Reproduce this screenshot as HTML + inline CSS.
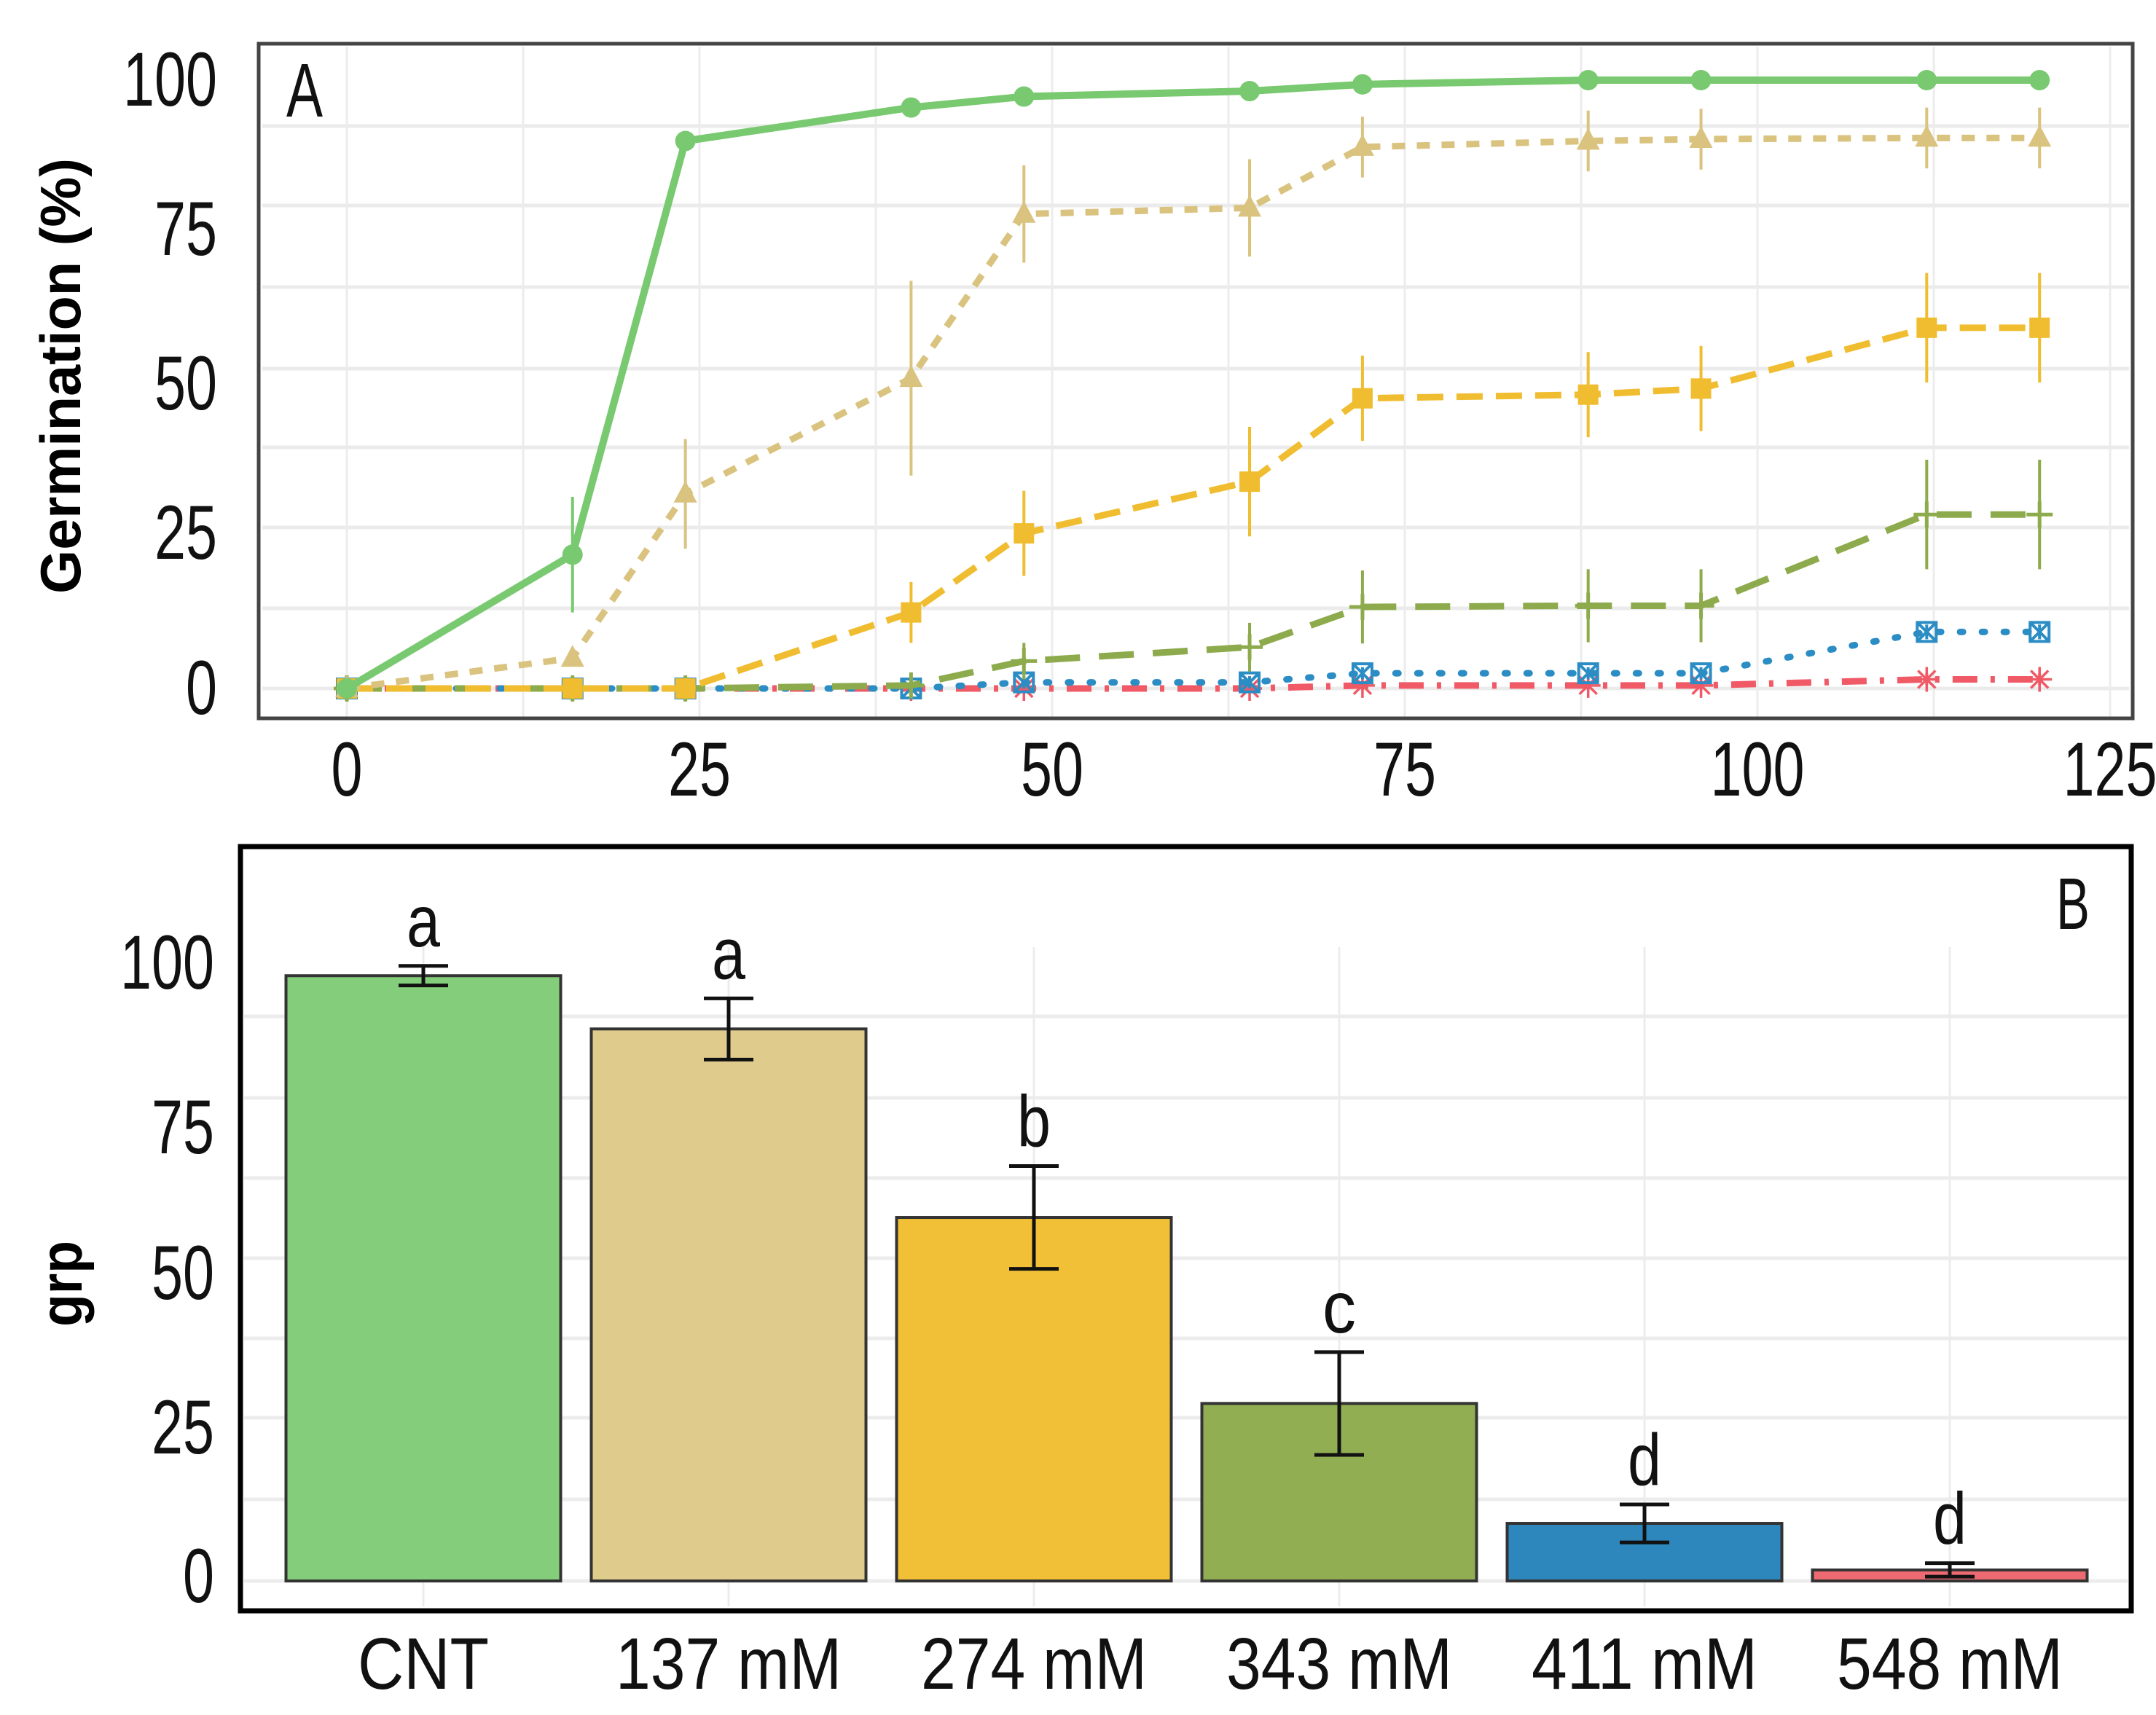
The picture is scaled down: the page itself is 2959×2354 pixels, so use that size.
<!DOCTYPE html>
<html><head><meta charset="utf-8"><style>
html,body{margin:0;padding:0;background:#fff;}
svg{display:block;}
</style></head><body>
<svg id="chart" width="2959" height="2354" viewBox="0 0 2959 2354" xmlns="http://www.w3.org/2000/svg" font-family="'Liberation Sans', sans-serif">
<g id="panelA"></g>
<g id="panelB"></g>
</svg>
<script>
// ---------- Panel A data ----------
const timePoints = [0, 16, 24, 40, 48, 64, 72, 88, 96, 112, 120];
const cntValues  = [0, 22, 90, 95.5, 97.3, 98.2, 99.3, 100, 100, 100, 100];
const cntErr     = [0, 9.5, 1, 1, 1, 1, 1, 1, 1, 1, 1];
const t137Values = [0, 5, 32, 51, 78, 79, 89, 90, 90.3, 90.5, 90.5];
const t137Err    = [0, 1, 9, 16, 8, 8, 5, 5, 5, 5, 5];
const t274Values = [0, 0, 0, 12.5, 25.5, 34, 47.7, 48.3, 49.3, 59.3, 59.3];
const t274Err    = [0, 0, 0, 5, 7, 9, 7, 7, 7, 9, 9];
const t343Values = [0, 0, 0, 0.5, 4.5, 6.8, 13.4, 13.6, 13.6, 28.6, 28.6];
const t343Err    = [0, 0, 0, 1, 3, 4, 6, 6, 6, 9, 9];
const t411Values = [0, 0, 0, 0, 1, 1, 2.5, 2.5, 2.5, 9.3, 9.3];
const t411Err    = [0, 0, 0, 0, 1, 1, 1, 1, 1, 1.2, 1.2];
const t548Values = [0, 0, 0, 0, 0, 0, 0.5, 0.5, 0.5, 1.5, 1.5];
const t548Err    = [0, 0, 0, 0, 0.5, 0.5, 0.7, 0.7, 0.7, 1, 1];
const xTickValues = [0, 25, 50, 75, 100, 125];
const yTickLabelsA = ["0", "25", "50", "75", "100"];

// ---------- Panel B data ----------
const categories = ["CNT", "137 mM", "274 mM", "343 mM", "411 mM", "548 mM"];
const grpValues  = [98.9, 90.2, 59.4, 29.0, 9.4, 1.8];
const grpErr     = [1.6, 5, 8.4, 8.4, 3.1, 1.1];
const sigLetters = ["a", "a", "b", "c", "d", "d"];
const yTickLabelsB = ["0", "25", "50", "75", "100"];

const NS = "http://www.w3.org/2000/svg";
function mk(parent, tag, attrs, text) {
  const e = document.createElementNS(NS, tag);
  for (const k in attrs) e.setAttribute(k, attrs[k]);
  if (text !== undefined) e.textContent = text;
  parent.appendChild(e);
  return e;
}

// ================= PANEL A =================
const A = document.getElementById('panelA');
const ax = v => 476 + v * (2896 - 476) / 125;
const ay = v => 945 - v * (945 - 110) / 100;

const gridA = mk(A, 'g', {});


[173, 282, 394, 506, 614, 724, 835, 945].forEach(y => {
  mk(gridA, 'line', {x1: 360, x2: 2922, y1: y, y2: y, stroke: '#ebebeb', 'stroke-width': 5});
});
for (let v = 0; v <= 125; v += 12.5) {
  mk(gridA, 'line', {x1: ax(v), x2: ax(v), y1: 64, y2: 984, stroke: '#ececec', 'stroke-width': 3});
}
const frameA = mk(A, 'rect', {x: 355, y: 60, width: 2572, height: 926, fill: 'none', stroke: '#444', 'stroke-width': 5});



const seriesA = [
  {name: 'cnt', vals: cntValues, err: cntErr, color: '#78c96f', dash: '', w: 10, marker: 'circle'},
  {name: '137mm', vals: t137Values, err: t137Err, color: '#d9c37f', dash: '18 16', w: 9, marker: 'triangle'},
  {name: '274mm', vals: t274Values, err: t274Err, color: '#f0bd30', dash: '36 18', w: 9, marker: 'square'},
  {name: '343mm', vals: t343Values, err: t343Err, color: '#8dab4c', dash: '48 26', w: 9, marker: 'plus'},
  {name: '411mm', vals: t411Values, err: t411Err, color: '#2b8dc4', dash: '4 26', w: 9, marker: 'boxcross'},
  {name: '548mm', vals: t548Values, err: t548Err, color: '#f05a67', dash: '34 18 6 18', w: 9, marker: 'star'}
];
seriesA.slice().reverse().forEach(s => {
  const g = mk(A, 'g', {});
  
  
  s.err.forEach((e, i) => {
    if (e <= 0) return;
    const eb = mk(g, 'line', {x1: ax(timePoints[i]), x2: ax(timePoints[i]), y1: ay(s.vals[i] - e), y2: ay(s.vals[i] + e), stroke: s.color, 'stroke-width': 4});
    
    
  });
  const pts = s.vals.map((v, i) => ax(timePoints[i]) + ',' + ay(v)).join(' ');
  const ln = mk(g, 'polyline', {points: pts, fill: 'none', stroke: s.color, 'stroke-width': s.w, 'stroke-dasharray': s.dash, 'stroke-linecap': s.marker === 'boxcross' ? 'round' : 'butt', 'stroke-linejoin': 'round'});
  
  
  s.vals.forEach((v, i) => {
    const x = ax(timePoints[i]), y = ay(v);
    let m;
    if (s.marker === 'circle') m = mk(g, 'circle', {cx: x, cy: y, r: 14, fill: s.color});
    else if (s.marker === 'triangle') m = mk(g, 'polygon', {points: `${x},${y-18} ${x-16},${y+12} ${x+16},${y+12}`, fill: s.color});
    else if (s.marker === 'square') m = mk(g, 'rect', {x: x-14, y: y-14, width: 28, height: 28, fill: s.color});
    else if (s.marker === 'plus') m = mk(g, 'path', {d: `M${x-18},${y}H${x+18}M${x},${y-18}V${y+18}`, stroke: s.color, 'stroke-width': 5});
    else if (s.marker === 'boxcross') m = mk(g, 'path', {d: `M${x-13},${y-13}h26v26h-26zM${x-13},${y-13}L${x+13},${y+13}M${x+13},${y-13}L${x-13},${y+13}`, stroke: s.color, 'stroke-width': 4, fill: 'none'});
    else m = mk(g, 'path', {d: `M${x-17},${y}H${x+17}M${x},${y-17}V${y+17}M${x-12},${y-12}L${x+12},${y+12}M${x+12},${y-12}L${x-12},${y+12}`, stroke: s.color, 'stroke-width': 3.5});
    
    
  });
});

const yLabPosA = [943, 730, 525, 313, 108];
yTickLabelsA.forEach((t, i) => {
  const tx = mk(A, 'text', {x: 298, y: yLabPosA[i] + 37, 'text-anchor': 'end', 'font-size': 105, fill: '#111', textLength: t.length * 43, lengthAdjust: 'spacingAndGlyphs'}, t);
  
  
});
xTickValues.forEach(v => {
  const t = String(v);
  const tx = mk(A, 'text', {x: ax(v), y: 1092, 'text-anchor': 'middle', 'font-size': 105, fill: '#111', textLength: t.length * 43, lengthAdjust: 'spacingAndGlyphs'}, t);
  
  
});
const ytA = mk(A, 'text', {transform: 'translate(110,516) rotate(-90)', 'text-anchor': 'middle', 'font-size': 78, 'font-weight': 'bold', fill: '#000', textLength: 598, lengthAdjust: 'spacingAndGlyphs'}, 'Germination (%)');


const lA = mk(A, 'text', {x: 393, y: 160, 'font-size': 105, fill: '#111', textLength: 50, lengthAdjust: 'spacingAndGlyphs'}, 'A');



// ================= PANEL B =================
const B = document.getElementById('panelB');
const bx0 = 581, bStep = 419, bW = 377;
const bx = i => bx0 + i * bStep;
const by = v => 2170 - v * 8.4;

const gridB = mk(B, 'g', {});


[1395, 1507, 1617, 1727, 1837, 1946, 2058, 2170].forEach(y => {
  mk(gridB, 'line', {x1: 335, x2: 2920, y1: y, y2: y, stroke: '#ececec', 'stroke-width': 5});
});
categories.forEach((c, i) => {
  mk(gridB, 'line', {x1: bx(i), x2: bx(i), y1: 1300, y2: 2205, stroke: '#ececec', 'stroke-width': 3});
});
const barColors = ['#84cd7a', '#dfcb8b', '#f1c036', '#91ae53', '#2d87bd', '#ee6a72'];
categories.forEach((c, i) => {
  const r = mk(B, 'rect', {x: bx(i) - bW / 2, y: by(grpValues[i]), width: bW, height: by(0) - by(grpValues[i]), fill: barColors[i], stroke: '#333', 'stroke-width': 4});
  
  
  const top = by(grpValues[i] + grpErr[i]), bot = by(grpValues[i] - grpErr[i]);
  const eb = mk(B, 'path', {d: `M${bx(i)-34},${top}H${bx(i)+34}M${bx(i)},${top}V${bot}M${bx(i)-34},${bot}H${bx(i)+34}`, stroke: '#111', 'stroke-width': 5, fill: 'none'});
  
  
  const lt = mk(B, 'text', {x: bx(i), y: top - 27, 'text-anchor': 'middle', 'font-size': 100, fill: '#111', textLength: 46, lengthAdjust: 'spacingAndGlyphs'}, sigLetters[i]);
  
  
  const xl = mk(B, 'text', {x: bx(i), y: 2318, 'text-anchor': 'middle', 'font-size': 100, fill: '#111', textLength: c === 'CNT' ? 180 : 310, lengthAdjust: 'spacingAndGlyphs'}, c);
  
  
});
const frameB = mk(B, 'rect', {x: 330, y: 1162, width: 2595, height: 1049, fill: 'none', stroke: '#000', 'stroke-width': 7});


const yLabPosB = [2162, 1958, 1746, 1546, 1320];
yTickLabelsB.forEach((t, i) => {
  const tx = mk(B, 'text', {x: 294, y: yLabPosB[i] + 37, 'text-anchor': 'end', 'font-size': 105, fill: '#111', textLength: t.length * 43, lengthAdjust: 'spacingAndGlyphs'}, t);
  
  
});
const ytB = mk(B, 'text', {transform: 'translate(112,1762) rotate(-90)', 'text-anchor': 'middle', 'font-size': 82, 'font-weight': 'bold', fill: '#000', textLength: 118, lengthAdjust: 'spacingAndGlyphs'}, 'grp');


const lB = mk(B, 'text', {x: 2822, y: 1275, 'font-size': 100, fill: '#111', textLength: 46, lengthAdjust: 'spacingAndGlyphs'}, 'B');


</script>
</body></html>
